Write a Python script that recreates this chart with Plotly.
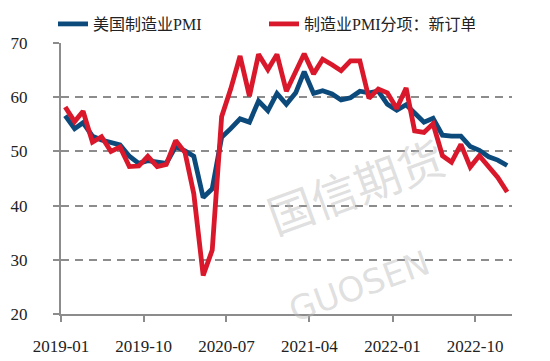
import pandas as pd
import plotly.graph_objects as go

months = pd.date_range("2019-01-01", "2023-01-01", freq="MS").strftime("%Y-%m").tolist()

pmi = [56.6, 54.2, 55.3, 52.8, 52.1, 51.7, 51.2, 49.1, 47.8, 48.3, 48.1, 47.8,
       50.9, 50.1, 49.1, 41.5, 43.1, 52.6, 54.2, 56.0, 55.4, 59.3, 57.5, 60.7,
       58.7, 60.8, 64.7, 60.7, 61.2, 60.6, 59.5, 59.9, 61.1, 60.8, 61.1, 58.7,
       57.6, 58.6, 57.1, 55.4, 56.1, 53.0, 52.8, 52.8, 50.9, 50.2, 49.0, 48.4,
       47.4]

new_orders = [58.2, 55.5, 57.4, 51.7, 52.7, 50.0, 50.8, 47.2, 47.3, 49.1, 47.2, 47.6,
              52.0, 49.8, 42.2, 27.1, 31.8, 56.4, 61.5, 67.6, 60.2, 67.9, 65.1, 67.9,
              61.1, 64.8, 68.0, 64.3, 67.0, 66.0, 64.9, 66.7, 66.7, 59.8, 61.5, 60.8,
              57.9, 61.7, 53.8, 53.5, 55.1, 49.2, 48.0, 51.3, 47.1, 49.2, 47.2, 45.2,
              42.5]

series_names = ["美国制造业PMI", "制造业PMI分项：新订单"]
y_ticks = [20, 30, 40, 50, 60, 70]

x = [pd.Timestamp(m + "-15") for m in months]

fig = go.Figure()
fig.add_trace(go.Scatter(x=x, y=pmi, name=series_names[0], mode="lines",
                         line=dict(color="#0c4a7c", width=4.8)))
fig.add_trace(go.Scatter(x=x, y=new_orders, name=series_names[1], mode="lines",
                         line=dict(color="#d9182b", width=4.8)))

axis_color = "#8c8c8c"
tick_font = dict(family="Liberation Serif, Times New Roman, serif", size=17, color="#222")

# page body adds an 8px offset; margins compensate for it
fig.update_layout(
    width=550, height=361,
    margin=dict(l=53, r=46, t=35, b=55),
    paper_bgcolor="white", plot_bgcolor="white",
    showlegend=True,
    legend=dict(orientation="h", xref="container", yref="container",
                x=45 / 550, xanchor="left", y=1 - 16 / 361, yanchor="middle",
                font=dict(family="Liberation Serif, Noto Sans CJK SC, serif", size=16, color="#222"),
                itemwidth=30, entrywidth=166, bgcolor="rgba(0,0,0,0)"),
    xaxis=dict(type="date", range=["2019-01-01", "2023-01-31"], automargin=False,
               tick0="2019-01-01", dtick="M9", tickformat="%Y-%m",
               showgrid=False, showline=True, linecolor=axis_color, linewidth=2,
               ticks="outside", ticklen=6, tickcolor=axis_color, tickwidth=2,
               tickfont=tick_font, ticklabelstandoff=10),
    yaxis=dict(range=[20, 70], tickvals=y_ticks, showgrid=True, gridcolor=axis_color,
               gridwidth=2, griddash="8px,6px", zeroline=False, automargin=False,
               showline=True, linecolor=axis_color, linewidth=2,
               ticks="outside", ticklen=6, tickcolor=axis_color, tickwidth=2,
               tickfont=tick_font, ticklabelstandoff=22),
)

wm = "rgba(185,185,185,0.45)"
fig.add_annotation(text="国信期货", xref="paper", yref="paper", x=0.874, y=0.236,
                   showarrow=False, textangle=-20,
                   font=dict(family="Noto Sans CJK SC", size=46, color=wm))
fig.add_annotation(text="GUOSEN", xref="paper", yref="paper", x=0.836, y=-0.07,
                   showarrow=False, textangle=-20,
                   font=dict(family="DejaVu Sans", size=34, color=wm))

fig.write_html("out.html")
